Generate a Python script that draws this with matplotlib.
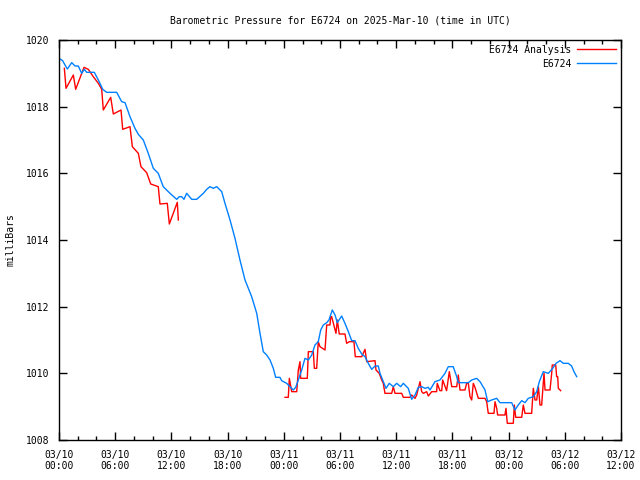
import numpy as np
import pandas as pd
import matplotlib
matplotlib.use("Agg")
import matplotlib.pyplot as plt
import matplotlib.dates as mdates

start = pd.Timestamp("2025-03-10 00:00")

# hours since 03/10 00:00 and pressure (mb)
obs_hours = [0.11, 0.39, 0.64, 0.89, 1.36, 1.71, 2.06, 2.42, 2.70, 2.96, 3.77, 4.20, 4.67, 5.09,
             6.16, 6.69, 7.05, 7.58, 8.11, 8.47, 9.00, 9.53, 10.07, 10.60, 11.13, 11.85, 12.57,
             12.84, 13.10, 13.34, 13.63, 14.17, 14.70, 15.41, 15.77, 16.12, 16.47, 16.84, 17.37,
             17.72, 18.26, 18.79, 19.32, 19.86, 20.57, 21.11, 21.46, 21.81, 22.17, 22.53, 22.88,
             23.13, 23.59, 23.77, 24.31, 24.66, 25.01, 25.27, 25.55, 25.91, 26.26, 26.62, 26.98,
             27.33, 27.68, 27.94, 28.22, 28.58, 28.82, 29.18, 29.47, 29.71, 30.18, 30.53, 30.89,
             31.25, 31.60, 31.95, 32.32, 32.67, 33.02, 33.38, 33.74, 34.09, 34.27, 34.62, 34.91,
             35.26, 35.69, 36.05, 36.48, 36.76, 37.29, 37.65, 38.01, 38.36, 38.72, 39.07, 39.43,
             39.61, 40.14, 40.67, 41.21, 41.56, 42.09, 42.46, 42.63, 43.70, 44.06, 44.59, 44.95,
             45.48, 45.77, 46.19, 46.73, 47.08, 48.33, 48.68, 49.03, 49.40, 49.75, 50.10, 50.64,
             51.00, 51.28, 51.70, 52.24, 52.71, 53.06, 53.49, 53.84, 54.37, 54.73, 54.98, 55.27]
obs_mb = [1019.43, 1019.38, 1019.25, 1019.13, 1019.32, 1019.22, 1019.22, 1019.00, 1019.12, 1019.03,
          1019.03, 1018.80, 1018.52, 1018.43, 1018.43, 1018.15, 1018.12, 1017.70, 1017.35, 1017.17,
          1017.00, 1016.60, 1016.15, 1016.00, 1015.60, 1015.40, 1015.22, 1015.30, 1015.30, 1015.22,
          1015.40, 1015.22, 1015.22, 1015.40, 1015.52, 1015.60, 1015.55, 1015.60, 1015.45, 1015.10,
          1014.60, 1014.05, 1013.40, 1012.80, 1012.30, 1011.80, 1011.20, 1010.65, 1010.55, 1010.40,
          1010.15, 1009.88, 1009.88, 1009.78, 1009.70, 1009.60, 1009.50, 1009.58, 1009.80, 1010.10,
          1010.45, 1010.40, 1010.55, 1010.85, 1010.95, 1011.30, 1011.45, 1011.52, 1011.60, 1011.90,
          1011.75, 1011.52, 1011.72, 1011.50, 1011.25, 1010.98, 1010.98, 1010.75, 1010.58, 1010.50,
          1010.30, 1010.12, 1010.22, 1010.22, 1010.00, 1009.75, 1009.55, 1009.70, 1009.60, 1009.70,
          1009.60, 1009.70, 1009.55, 1009.22, 1009.35, 1009.58, 1009.60, 1009.55, 1009.58, 1009.50,
          1009.75, 1009.80, 1010.00, 1010.20, 1010.20, 1009.90, 1009.72, 1009.72, 1009.80, 1009.85,
          1009.75, 1009.50, 1009.15, 1009.20, 1009.25, 1009.12, 1009.12, 1008.90, 1009.05, 1009.18,
          1009.12, 1009.25, 1009.30, 1009.45, 1009.75, 1010.05, 1010.00, 1010.15, 1010.30, 1010.38,
          1010.30, 1010.30, 1010.22, 1010.05, 1009.90]

# analysis: two runs separated by a gap (NaN)
ana_hours = [0.57, 0.75, 1.53, 1.78, 2.32, 2.67, 3.13, 3.66, 4.20, 4.56, 4.73, 5.52, 5.80, 6.62,
             6.80, 7.58, 7.83, 8.47, 8.75, 9.36, 9.79, 10.60, 10.78, 11.56, 11.78, 12.63, 12.74,
             18.0,
             24.13, 24.48, 24.59, 24.84, 25.38, 25.55, 25.73, 25.80, 26.51, 26.62, 27.15, 27.26,
             27.51, 27.68, 27.86, 28.40, 28.58, 28.93, 29.01, 29.11, 29.57, 29.71, 29.92, 30.53,
             30.71, 30.99, 31.49, 31.63, 32.32, 32.56, 32.67, 32.85, 33.74, 33.84, 34.19, 34.45,
             34.62, 34.80, 35.52, 35.69, 35.87, 36.59, 36.76, 37.47, 37.65, 38.01, 38.19, 38.54,
             38.72, 38.90, 39.25, 39.43, 39.79, 40.32, 40.38, 40.67, 40.86, 40.96, 41.38, 41.67,
             41.93, 42.46, 42.63, 42.81, 43.34, 43.52, 43.70, 43.88, 44.06, 44.23, 44.41, 44.77,
             45.48, 45.66, 45.83, 46.44, 46.55, 46.73, 46.83, 47.61, 47.72, 47.86, 48.50, 48.61,
             48.76, 49.40, 49.57, 49.75, 50.46, 50.64, 50.82, 51.00, 51.18, 51.35, 51.53, 51.78,
             51.89, 52.42, 52.60, 52.66, 53.03, 53.13, 53.24, 53.31, 53.56]
ana_mb = [1019.15, 1018.55, 1018.95, 1018.52, 1018.92, 1019.18, 1019.12, 1018.90, 1018.70, 1018.52,
          1017.90, 1018.28, 1017.78, 1017.90, 1017.32, 1017.40, 1016.80, 1016.60, 1016.20, 1016.02,
          1015.68, 1015.60, 1015.08, 1015.10, 1014.48, 1015.13, 1014.60,
          np.nan,
          1009.28, 1009.28, 1009.85, 1009.45, 1009.45, 1010.10, 1010.35, 1009.85, 1009.85, 1010.65,
          1010.65, 1010.15, 1010.15, 1010.95, 1010.80, 1010.70, 1011.45, 1011.45, 1011.70, 1011.70,
          1011.20, 1011.60, 1011.18, 1011.18, 1010.90, 1010.95, 1010.95, 1010.50, 1010.50, 1010.65,
          1010.72, 1010.35, 1010.38, 1010.10, 1010.00, 1009.80, 1009.70, 1009.40, 1009.40, 1009.60,
          1009.40, 1009.40, 1009.28, 1009.28, 1009.35, 1009.25, 1009.35, 1009.75, 1009.45, 1009.40,
          1009.45, 1009.32, 1009.45, 1009.45, 1009.70, 1009.48, 1009.48, 1009.80, 1009.48, 1010.05,
          1009.60, 1009.60, 1009.95, 1009.50, 1009.50, 1009.70, 1009.70, 1009.30, 1009.20, 1009.70,
          1009.58, 1009.25, 1009.25, 1009.15, 1008.80, 1008.80, 1009.15, 1008.95, 1008.75, 1008.75,
          1008.95, 1008.50, 1008.50, 1009.05, 1008.68, 1008.68, 1009.05, 1008.80, 1008.80, 1009.55,
          1009.20, 1009.20, 1009.60, 1009.05, 1009.05, 1010.00, 1009.50, 1009.50, 1010.00, 1010.25,
          1010.25, 1009.90, 1009.90, 1009.55, 1009.48]

obs_t = start + pd.to_timedelta(obs_hours, unit="h")
ana_t = start + pd.to_timedelta(ana_hours, unit="h")

plt.rcParams["font.family"] = "DejaVu Sans Mono"
plt.rcParams["font.size"] = 7

fig = plt.figure(figsize=(6.4, 4.8), dpi=100)
ax = fig.add_axes([59 / 640, 40 / 480, 562 / 640, 400 / 480])

ax.plot(ana_t, ana_mb, color="#ff0000", lw=1, label="E6724 Analysis")
ax.plot(obs_t, obs_mb, color="#0080ff", lw=1, label="E6724")

ax.set_xlim(start, start + pd.Timedelta(hours=60))
ax.set_ylim(1008, 1020)
ax.set_yticks(np.arange(1008, 1021, 2))
ax.yaxis.set_major_formatter(lambda v, p: f"{v:.0f}")
ax.xaxis.set_major_locator(mdates.HourLocator(byhour=range(0, 24, 6)))
ax.xaxis.set_minor_locator(mdates.HourLocator(byhour=range(0, 24, 2)))
ax.xaxis.set_major_formatter(mdates.DateFormatter("%m/%d\n%H:%M"))

ax.tick_params(which="both", direction="in", top=True, right=True, width=1, color="black")
ax.tick_params(which="major", length=6, pad=7)
ax.tick_params(which="minor", length=3)
for s in ax.spines.values():
    s.set_linewidth(1)

ax.set_ylabel("milliBars")
ax.yaxis.set_label_coords(-0.078, 0.5)
ax.set_title("Barometric Pressure for E6724 on 2025-Mar-10 (time in UTC)", pad=12, fontsize=7)

leg = ax.legend(loc="upper right", frameon=False, markerfirst=False, handlelength=4,
                borderaxespad=0.1, labelspacing=0.4, handletextpad=0.6)
for t in leg.get_texts():
    t.set_ha("right")

fig.savefig("out.png", dpi=100)
plt.close()
